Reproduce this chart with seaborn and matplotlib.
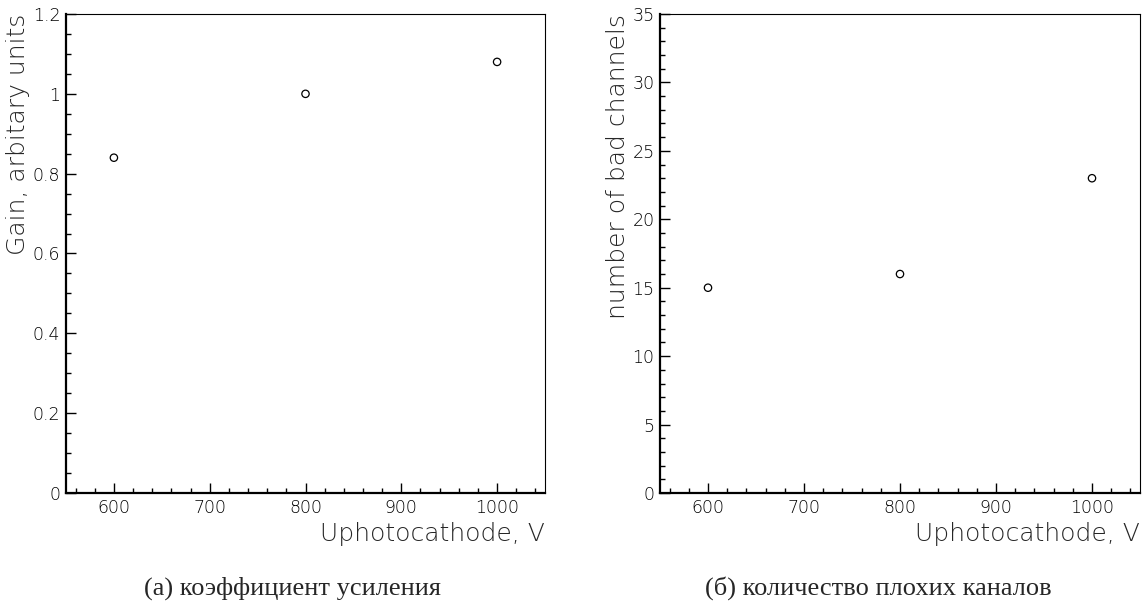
import matplotlib
matplotlib.use("Agg")
import matplotlib.pyplot as plt
from matplotlib.ticker import MultipleLocator, FuncFormatter
import seaborn as sns

voltage = [600, 800, 1000]
gain = [0.84, 1.00, 1.08]
bad_channels = [15, 16, 23]

xlabel = "Uphotocathode, V"
ylabel_a = "Gain, arbitary units"
ylabel_b = "number of bad channels"
caption_a = "(а) коэффициент усиления"
caption_b = "(б) количество плохих каналов"

sns.set_theme(style="white")
plt.rcParams['font.family'] = ['DejaVu Sans']

fig = plt.figure(figsize=(11.48, 6.05), dpi=100)
H = 605.0
W = 1148.0
axA = fig.add_axes([66 / W, 1 - 493 / H, (545 - 66) / W, (493 - 14) / H])
axB = fig.add_axes([660 / W, 1 - 493 / H, (1140 - 660) / W, (493 - 14) / H])

fmt = FuncFormatter(lambda v, p: "%g" % round(v, 6))

def style(ax, ymax, ymaj, ymin, ylabel):
    ax.set_xlim(550, 1050)
    ax.set_ylim(0, ymax)
    ax.xaxis.set_major_locator(MultipleLocator(100))
    ax.xaxis.set_minor_locator(MultipleLocator(20))
    ax.yaxis.set_major_locator(MultipleLocator(ymaj))
    ax.yaxis.set_minor_locator(MultipleLocator(ymin))
    ax.yaxis.set_major_formatter(fmt)
    ax.xaxis.set_major_formatter(fmt)
    ax.tick_params(which="both", direction="in", top=False, right=False,
                   left=True, bottom=True, colors="black", labelsize=12.5)
    ax.tick_params(which="major", length=7, width=1.0, pad=4)
    ax.tick_params(which="minor", length=3.5, width=1.0)
    for lab in ax.get_xticklabels() + ax.get_yticklabels():
        lab.set_fontweight("light")
    for s in ["left", "bottom"]:
        ax.spines[s].set_linewidth(1.6)
        ax.spines[s].set_color("black")
    for s in ["top", "right"]:
        ax.spines[s].set_linewidth(0.8)
        ax.spines[s].set_color("black")
    ax.set_xlabel(xlabel, loc="right", fontsize=18, fontweight="light", labelpad=4)
    ax.set_ylabel(ylabel, loc="top", fontsize=18, fontweight="light", labelpad=2)
    ax.grid(False)

sns.scatterplot(x=voltage, y=gain, ax=axA, marker="o", s=28,
                color="none", edgecolor="black", linewidth=0.9)
sns.scatterplot(x=voltage, y=bad_channels, ax=axB, marker="o", s=28,
                color="none", edgecolor="black", linewidth=0.9)

style(axA, 1.2, 0.2, 0.05, ylabel_a)
style(axB, 35, 5, 1, ylabel_b)

fig.text(292 / W, 1 - 588 / H, caption_a, ha="center", va="center",
         fontsize=19, family=["Liberation Serif"])
fig.text(878 / W, 1 - 588 / H, caption_b, ha="center", va="center",
         fontsize=19, family=["Liberation Serif"])

fig.savefig("out.png", dpi=100)
